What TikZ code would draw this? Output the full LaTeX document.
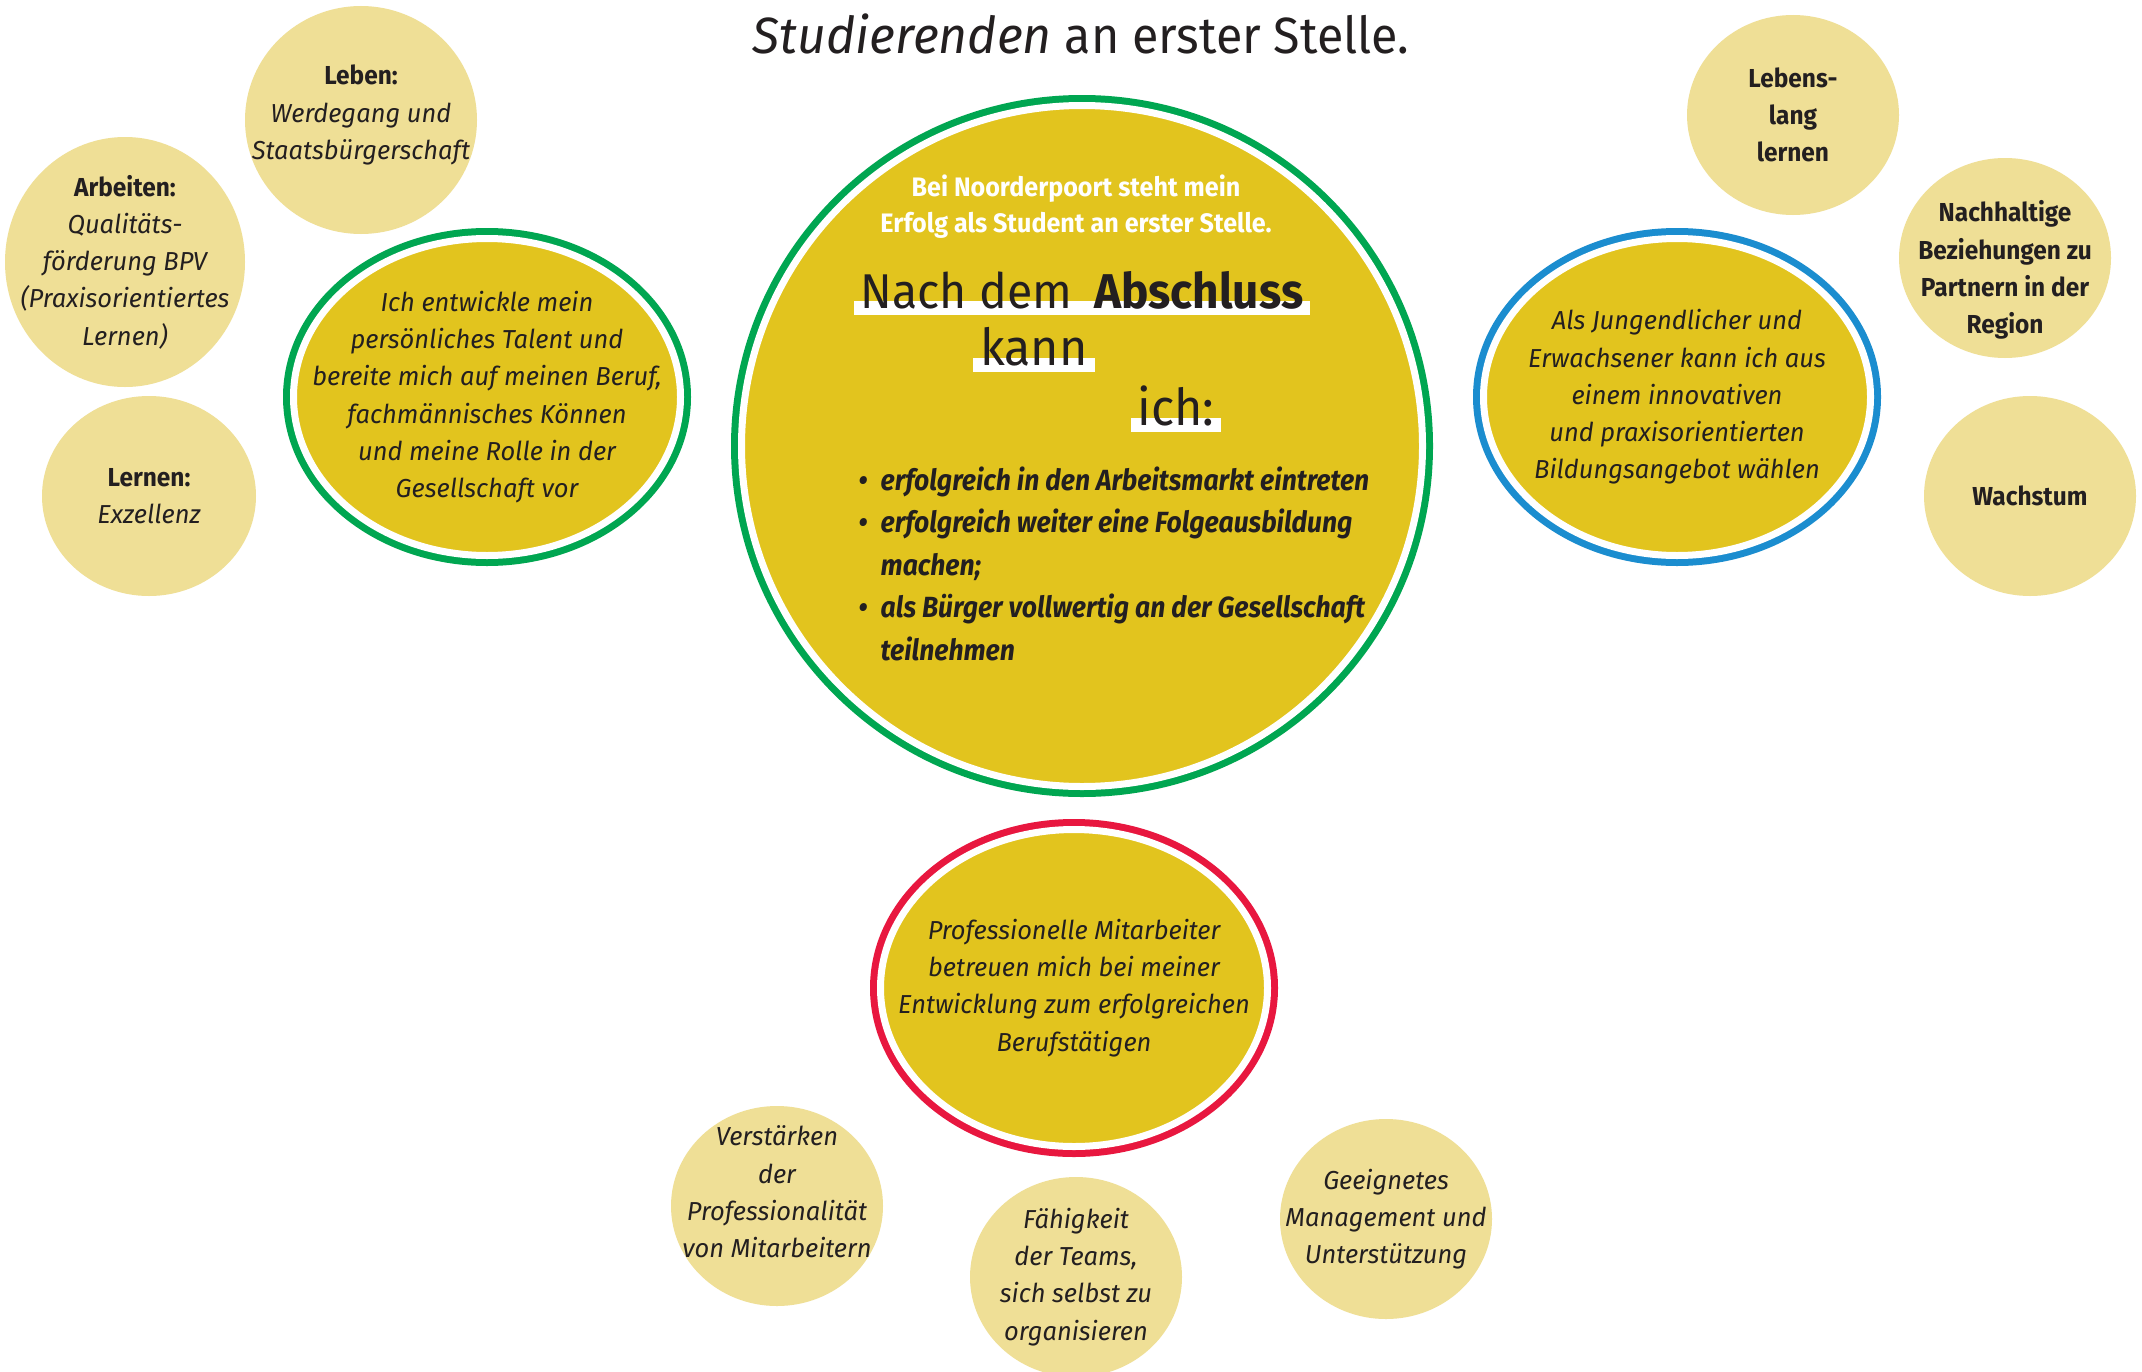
\documentclass[tikz,border=0pt]{standalone}
\usepackage{fontspec}
\setmainfont{Fira Sans}[
    UprightFeatures={FakeStretch=0.95},
    BoldFeatures={FakeStretch=0.94},
    ItalicFeatures={FakeStretch=0.98},
    BoldItalicFeatures={FakeStretch=0.91}]
\usepackage{xcolor}
\usepackage{tikz}
\usetikzlibrary{shapes,positioning}

\definecolor{pale}{HTML}{EFDF96}
\definecolor{gold}{HTML}{E2C41E}
\definecolor{ringgreen}{HTML}{00A651}
\definecolor{ringblue}{HTML}{1B8DCF}
\definecolor{ringred}{HTML}{E8173F}
\definecolor{ink}{HTML}{231F20}

\begin{document}
\begin{tikzpicture}[
        x=1cm, y=-1cm, text=ink,
        bubble/.style={ellipse, fill=pale, minimum width=2.12cm, minimum height=2cm, inner sep=0pt},
        ring/.style={ellipse, fill=gold, draw=white, line width=0.07cm, preaction={draw=#1, line width=0.21cm}, minimum width=3.87cm, minimum height=3.17cm, inner sep=0pt},
        txt/.style={align=center, inner sep=0pt, font=\itshape\fontsize{7.4}{10.6}\selectfont},
        keytxt/.style={align=center, inner sep=0pt, font=\bfseries\fontsize{7.4}{10.6}\selectfont},
        bar/.style={fill=white, anchor=base, inner xsep=0.07cm, inner ysep=0pt, text height=0.07cm, text depth=0.065cm, font=\fontsize{14.5}{17}\selectfont}
    ]
        \useasboundingbox[fill=white] (0,0) rectangle (21.42,13.71);

        \node[anchor=base, inner sep=0pt, font=\fontsize{14.5}{17}\selectfont] (titel) at (10.81,0.53) {\textit{Studierenden} an erster Stelle.};

        \node[ring=ringgreen, minimum width=6.81cm, minimum height=6.81cm] (erfolg) at (10.82,4.46) {};
        \node[align=center, inner sep=0pt, text=white, font=\bfseries\fontsize{7.6}{10.2}\selectfont] (bei) at (10.76,2.065) {Bei Noorderpoort steht mein\\Erfolg als Student an erster Stelle.};
        \node[bar, font=\fontsize{13.9}{17}\selectfont] (nach) at (10.82,3.08) {Nach dem\hspace{0.45em}\textbf{Abschluss}};
        \node[bar] (kann) at (10.34,3.65) {kann};
        \node[bar] (ich) at (11.76,4.25) {ich:};
        \node[anchor=north west, align=left, inner sep=0pt, font=\bfseries\itshape\fontsize{8.3}{12.1}\selectfont] (ziele) at (8.58,4.66)
            {\makebox[0.22cm][l]{\textbullet}erfolgreich in den Arbeitsmarkt eintreten\\
             \makebox[0.22cm][l]{\textbullet}erfolgreich weiter eine Folgeausbildung\\
             \hspace*{0.22cm}machen;\\
             \makebox[0.22cm][l]{\textbullet}als Bürger vollwertig an der Gesellschaft\\
             \hspace*{0.22cm}teilnehmen};

        \node[ring=ringgreen] (talent) at (4.87,3.97) {};
        \node[txt] (talent-txt) at (talent) {Ich entwickle mein\\persönliches Talent und\\bereite mich auf meinen Beruf,\\fachmännisches Können\\und meine Rolle in der\\Gesellschaft vor};
        \node[ring=ringblue] (angebot) at (16.77,3.97) {};
        \node[txt] (angebot-txt) at (angebot) {Als Jungendlicher und\\Erwachsener kann ich aus\\einem innovativen\\und praxisorientierten\\Bildungsangebot wählen};
        \node[ring=ringred] (mitarbeiter) at (10.74,9.88) {};
        \node[txt] (mitarbeiter-txt) at (mitarbeiter) {Professionelle Mitarbeiter\\betreuen mich bei meiner\\Entwicklung zum erfolgreichen\\Berufstätigen};

        \node[bubble, minimum width=2.40cm, minimum height=2.50cm] (arbeiten) at (1.25,2.62) {};
        \node[txt] (arbeiten-txt) at (arbeiten) {\textbf{\upshape Arbeiten:}\\Qualitäts-\\förderung BPV\\(Praxisorientiertes\\Lernen)};
        \node[bubble, minimum width=2.32cm, minimum height=2.28cm] (leben) at (3.61,1.20) {};
        \node[txt, yshift=0.05cm] (leben-txt) at (leben) {\textbf{\upshape Leben:}\\Werdegang und\\Staatsbürgerschaft};
        \node[bubble, minimum width=2.14cm] (lernen) at (1.49,4.96) {};
        \node[txt] (lernen-txt) at (lernen) {\textbf{\upshape Lernen:}\\Exzellenz};

        \node[bubble] (lebenslang) at (17.93,1.15) {};
        \node[keytxt] (lebenslang-txt) at (lebenslang) {Lebens-\\lang\\lernen};
        \node[bubble] (partner) at (20.05,2.58) {};
        \node[keytxt, yshift=-0.12cm] (partner-txt) at (partner) {Nachhaltige\\Beziehungen zu\\Partnern in der\\Region};
        \node[bubble] (wachstum) at (20.30,4.96) {};
        \node[keytxt] (wachstum-txt) at (wachstum) {Wachstum};

        \node[bubble] (staerken) at (7.77,12.06) {};
        \node[txt, yshift=0.14cm] (staerken-txt) at (staerken) {Verstärken\\der\\Professionalität\\von Mitarbeitern};
        \node[bubble] (teams) at (10.76,12.77) {};
        \node[txt] (teams-txt) at (teams) {Fähigkeit\\der Teams,\\sich selbst zu\\organisieren};
        \node[bubble] (management) at (13.86,12.19) {};
        \node[txt] (management-txt) at (management) {Geeignetes\\Management und\\Unterstützung};
    \end{tikzpicture}
\end{document}
